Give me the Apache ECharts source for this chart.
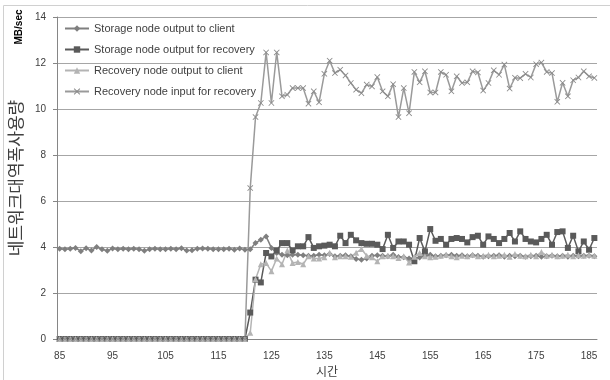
<!DOCTYPE html>
<html><head><meta charset="utf-8">
<script src="https://cdn.jsdelivr.net/npm/echarts@6/dist/echarts.min.js"></script>
<style>html,body{margin:0;padding:0;background:#fff}#c{width:610px;height:380px}</style>
</head><body><div id="c"></div>
<script>
const categories = [85,86,87,88,89,90,91,92,93,94,95,96,97,98,99,100,101,102,103,104,105,106,107,108,109,110,111,112,113,114,115,116,117,118,119,120,121,122,123,124,125,126,127,128,129,130,131,132,133,134,135,136,137,138,139,140,141,142,143,144,145,146,147,148,149,150,151,152,153,154,155,156,157,158,159,160,161,162,163,164,165,166,167,168,169,170,171,172,173,174,175,176,177,178,179,180,181,182,183,184,185,186];

const storageToClient = [3.92,3.9,3.92,3.96,3.82,3.95,3.85,4.0,3.9,3.84,3.93,3.9,3.92,3.9,3.92,3.9,3.84,3.9,3.92,3.9,3.9,3.92,3.9,3.95,3.85,3.86,3.92,3.94,3.92,3.9,3.9,3.9,3.92,3.88,3.93,3.88,
3.9,4.17,4.32,4.46,3.96,3.74,3.66,3.64,3.66,3.66,3.64,3.62,3.62,3.66,3.64,3.7,3.6,3.62,3.64,3.6,3.48,3.45,3.5,3.62,3.64,3.62,3.6,3.66,3.56,3.55,3.5,3.52,3.54,3.62,3.66,3.6,3.62,3.64,3.66,3.62,3.64,3.6,3.64,3.62,3.58,3.6,3.62,3.64,3.58,3.62,3.6,3.62,3.58,3.6,3.62,3.58,3.6,3.62,3.6,3.62,3.58,3.62,3.6,3.62,3.62,3.6];

const storageForRecovery = [0,0,0,0,0,0,0,0,0,0,0,0,0,0,0,0,0,0,0,0,0,0,0,0,0,0,0,0,0,0,0,0,0,0,0,0,
1.15,2.58,2.46,3.74,3.59,3.85,4.17,4.17,3.85,4.03,4.03,4.43,3.96,4.03,4.06,4.1,4.03,4.49,4.17,4.53,4.29,4.17,4.14,4.14,4.1,3.91,4.53,3.96,4.24,4.24,4.1,3.38,4.39,3.81,4.78,4.27,4.35,4.1,4.35,4.39,4.35,4.2,4.43,4.49,4.1,4.46,4.35,4.17,4.35,4.61,4.24,4.68,4.35,4.24,4.2,4.35,4.53,4.1,4.65,4.68,3.96,4.49,3.81,4.24,3.88,4.39];

const recoveryToClient = [0,0,0,0,0,0,0,0,0,0,0,0,0,0,0,0,0,0,0,0,0,0,0,0,0,0,0,0,0,0,0,0,0,0,0,0,
0.27,2.6,3.25,3.3,2.95,3.5,3.25,3.85,3.3,3.35,3.25,3.6,3.5,3.5,3.55,3.75,3.55,3.6,3.6,3.58,3.75,3.91,3.62,3.55,3.38,3.6,3.62,3.6,3.52,3.6,3.33,3.58,3.74,3.6,3.55,3.58,3.62,3.66,3.6,3.55,3.62,3.6,3.66,3.6,3.62,3.66,3.6,3.62,3.66,3.58,3.7,3.62,3.6,3.66,3.6,3.78,3.62,3.66,3.6,3.62,3.66,3.6,3.64,3.62,3.66,3.62];

const recoveryInput = [0,0,0,0,0,0,0,0,0,0,0,0,0,0,0,0,0,0,0,0,0,0,0,0,0,0,0,0,0,0,0,0,0,0,0,0,
6.56,9.65,10.26,12.46,10.26,12.46,10.55,10.62,10.91,10.91,10.91,10.23,10.77,10.29,11.53,12.1,11.56,11.71,11.46,11.13,10.84,10.69,11.06,10.98,11.39,10.77,10.55,11.08,9.65,10.91,9.82,11.61,11.16,11.64,10.72,10.72,11.61,11.49,10.77,11.42,11.13,11.16,11.64,11.59,10.8,11.13,11.68,11.49,11.93,10.89,11.36,11.34,11.53,11.37,11.95,12.02,11.61,11.56,10.31,11.14,10.55,11.25,11.37,11.64,11.42,11.35];

const seriesNames = ['Storage node output to client','Storage node output for recovery','Recovery node output to client','Recovery node input for recovery'];
const yTicks = {min:0, max:14, step:2};

const X_PATH = 'path://M0,1L1,0L5,4L9,0L10,1L6,5L10,9L9,10L5,6L1,10L0,9L4,5Z';
const FONT = 'Liberation Sans, Arial, sans-serif';
const KFONT = 'Noto Sans CJK KR, sans-serif';

function mk(name, data, symbol, size, color, lineColor) {
  return {
    name, type:'line', data, symbol, symbolSize:size, showAllSymbol:true,
    lineStyle:{width:1.5, color: lineColor || color},
    itemStyle:{color},
    emphasis:{disabled:true}
  };
}

const chart = echarts.init(document.getElementById('c'));
chart.setOption({
  animation:false,
  textStyle:{fontFamily:FONT},
  grid:{left:57, right:13, top:17, bottom:41, containLabel:false, outerBoundsMode:'none'},
  legend:{
    orient:'vertical', left:59, top:18, itemWidth:24, itemHeight:8, itemGap:10,
    textStyle:{fontSize:11, color:'#404040', fontFamily:FONT},
    data:seriesNames
  },
  xAxis:{
    type:'category', data:categories, boundaryGap:true,
    axisLine:{lineStyle:{color:'#868686'}},
    axisTick:{interval:4, length:4, lineStyle:{color:'#868686'}},
    axisLabel:{interval:9, fontSize:10, color:'#404040', margin:12},
    name:'시간', nameLocation:'middle', nameGap:21,
    nameTextStyle:{fontSize:12, color:'#404040', fontFamily:KFONT}
  },
  yAxis:{
    type:'value', min:yTicks.min, max:yTicks.max, interval:yTicks.step,
    axisLine:{show:true, lineStyle:{color:'#868686'}},
    axisTick:{show:true, length:4, lineStyle:{color:'#868686'}},
    splitLine:{lineStyle:{color:'#a6a6a6', width:1}},
    axisLabel:{fontSize:10, color:'#404040', margin:11},
    name:'네트워크대역폭사용량', nameLocation:'middle', nameRotate:90, nameGap:28,
    nameTextStyle:{fontSize:17, color:'#404040', fontFamily:KFONT}
  },
  graphic:[
    {type:'rect', silent:true, shape:{x:3.5, y:5.5, width:640, height:400}, style:{fill:'none', stroke:'#d0d0d0', lineWidth:1}},
    {type:'text', silent:true, x:19, y:27, rotation:Math.PI/2, style:{text:'MB/sec', font:'bold 10px ' + FONT, fill:'#000', align:'center', verticalAlign:'middle'}}
  ],
  series:[
    mk(seriesNames[0], storageToClient, 'diamond', 6, '#7f7f7f'),
    mk(seriesNames[1], storageForRecovery, 'rect', 6, '#5a5a5a'),
    mk(seriesNames[2], recoveryToClient, 'triangle', 6, '#b4b4b4'),
    mk(seriesNames[3], recoveryInput, X_PATH, 6, '#8a8a8a', '#9a9a9a')
  ]
});
</script></body></html>
